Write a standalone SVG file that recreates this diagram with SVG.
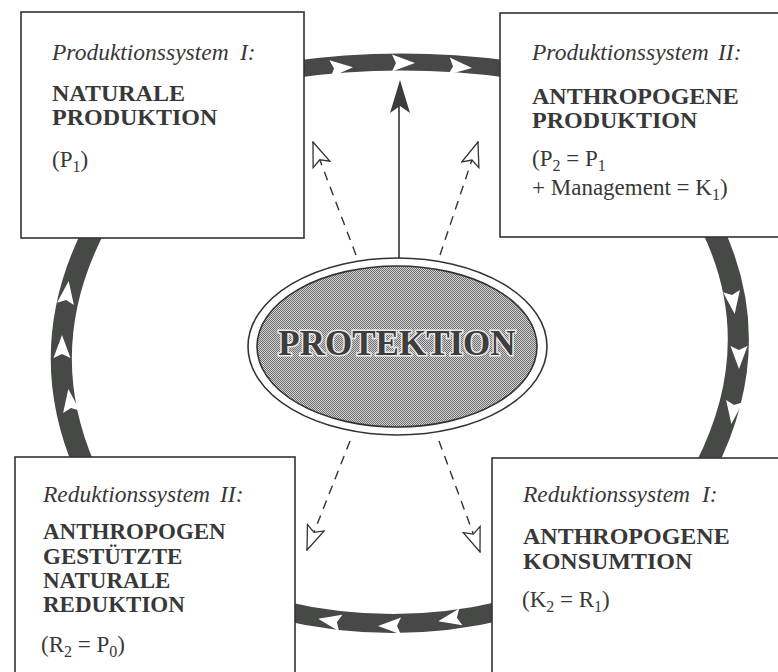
<svg xmlns="http://www.w3.org/2000/svg" xmlns:xlink="http://www.w3.org/1999/xlink" width="778" height="672" viewBox="0 0 778 672">
<style>
.box{fill:#fff;stroke:#333;stroke-width:1.6}
.band{fill:none;stroke:#474947;stroke-linecap:butt}
.it{font-family:"Liberation Serif","Times New Roman",serif;font-style:italic;font-size:23.5px;fill:#383838}
.bd{font-family:"Liberation Serif","Times New Roman",serif;font-weight:bold;font-size:24px;fill:#383838}
.bs{font-family:"Liberation Serif","Times New Roman",serif;font-weight:bold;font-size:23px;fill:#383838}
.rg{font-family:"Liberation Serif","Times New Roman",serif;font-size:23px;fill:#383838}
.sub{font-size:16px}
.dash{fill:none;stroke:#333;stroke-width:1.4;stroke-dasharray:9 7}
</style>
<defs>
<pattern id="stip" width="2" height="2" patternUnits="userSpaceOnUse">
<rect width="2" height="2" fill="#d2d2d2"/>
<rect width="1" height="1" fill="#6e6e6e"/>
<rect x="1" y="1" width="1" height="1" fill="#6e6e6e"/>
</pattern>
<path id="ba" d="M12 0 L-11 -8.5 L-7 0 L-11 8.5 Z" fill="#fff"/>
<marker id="open" markerUnits="userSpaceOnUse" viewBox="0 0 26 20" refX="25" refY="10" markerWidth="26" markerHeight="20" orient="auto">
<path d="M25 10 L1 1 L6 10 L1 19 Z" fill="#fff" stroke="#333" stroke-width="1.3" stroke-dasharray="none" stroke-linejoin="miter"/>
</marker>
</defs>
<rect width="778" height="672" fill="#fff"/>
<g id="connectors">
<path class="band" stroke-width="17" d="M 290 70 Q 400 54 515 70"/>
<path class="band" stroke-width="19" d="M 280 610 Q 393 637 505 610"/>
<path class="band" stroke-width="21" d="M 95 228 Q 33 348 85 468"/>
<path class="band" stroke-width="21" d="M 712 228 Q 768 345 705 468"/>
<use xlink:href="#ba" transform="translate(341,68) rotate(-4)"/>
<use xlink:href="#ba" transform="translate(403,63)"/>
<use xlink:href="#ba" transform="translate(460,67) rotate(5)"/>
<use xlink:href="#ba" transform="translate(733,302) rotate(82)"/>
<use xlink:href="#ba" transform="translate(739,357) rotate(90)"/>
<use xlink:href="#ba" transform="translate(733,412) rotate(98)"/>
<use xlink:href="#ba" transform="translate(450,619) rotate(169)"/>
<use xlink:href="#ba" transform="translate(390,626) rotate(180)"/>
<use xlink:href="#ba" transform="translate(330,621) rotate(191)"/>
<use xlink:href="#ba" transform="translate(70,401) rotate(-98)"/>
<use xlink:href="#ba" transform="translate(62,347) rotate(-90)"/>
<use xlink:href="#ba" transform="translate(67,293) rotate(-82)"/>
<line x1="399" y1="258" x2="399" y2="104" stroke="#333" stroke-width="1.6"/>
<path d="M400 80 L410 113 L400 106 L390 113 Z" fill="#3c3c3c"/>
<line class="dash" x1="356" y1="255" x2="313" y2="142" marker-end="url(#open)"/>
<line class="dash" x1="440" y1="255" x2="478" y2="142" marker-end="url(#open)"/>
<line class="dash" x1="350" y1="441" x2="307" y2="550" marker-end="url(#open)"/>
<line class="dash" x1="439" y1="441" x2="480" y2="552" marker-end="url(#open)"/>
</g>
<g id="node-produktion-1">
<rect class="box" x="21" y="12" width="283" height="226"/>
<text class="it" x="52" y="60">Produktionssystem<tspan x="240">I:</tspan></text>
<text class="bd" x="52" y="101">NATURALE</text>
<text class="bd" x="52" y="125">PRODUKTION</text>
<text class="rg" x="52" y="167">(P<tspan class="sub" dy="5">1</tspan><tspan dy="-5">)</tspan></text>
</g>
<g id="node-produktion-2">
<rect class="box" x="500" y="13" width="300" height="224"/>
<text class="it" x="532" y="60">Produktionssystem<tspan x="718">II:</tspan></text>
<text class="bd" x="532" y="104">ANTHROPOGENE</text>
<text class="bd" x="532" y="128">PRODUKTION</text>
<text class="rg" x="532" y="166">(P<tspan class="sub" dy="5">2</tspan><tspan dy="-5"> = P</tspan><tspan class="sub" dy="5">1</tspan></text>
<text class="rg" x="532" y="195">+ Management  = K<tspan class="sub" dy="5">1</tspan><tspan dy="-5">)</tspan></text>
</g>
<g id="node-reduktion-2">
<rect class="box" x="15" y="457" width="280" height="240"/>
<text class="it" x="43" y="502">Reduktionssystem<tspan x="220">II:</tspan></text>
<text class="bs" x="43" y="539">ANTHROPOGEN</text>
<text class="bs" x="43" y="564">GESTÜTZTE</text>
<text class="bs" x="43" y="588">NATURALE</text>
<text class="bs" x="43" y="612">REDUKTION</text>
<text class="rg" x="41" y="652">(R<tspan class="sub" dy="5">2</tspan><tspan dy="-5"> = P</tspan><tspan class="sub" dy="5">0</tspan><tspan dy="-5">)</tspan></text>
</g>
<g id="node-reduktion-1">
<rect class="box" x="492" y="458" width="310" height="240"/>
<text class="it" x="523" y="502">Reduktionssystem<tspan x="702">I:</tspan></text>
<text class="bd" x="523" y="544">ANTHROPOGENE</text>
<text class="bd" x="523" y="569">KONSUMTION</text>
<text class="rg" x="522" y="607">(K<tspan class="sub" dy="5">2</tspan><tspan dy="-5"> = R</tspan><tspan class="sub" dy="5">1</tspan><tspan dy="-5">)</tspan></text>
</g>
<g id="node-protektion">
<ellipse cx="397.5" cy="346.5" rx="149.5" ry="88.5" fill="#fff" stroke="#333" stroke-width="1.6"/>
<ellipse cx="397" cy="346.5" rx="140" ry="80.5" fill="url(#stip)" stroke="#333" stroke-width="1.6"/>
<text x="397" y="355" text-anchor="middle" style="font-family:'Liberation Serif','Times New Roman',serif;font-weight:bold;font-size:35px;fill:#3d3d3d;stroke:#e8e8e8;stroke-width:3;paint-order:stroke">PROTEKTION</text>
</g>
</svg>
